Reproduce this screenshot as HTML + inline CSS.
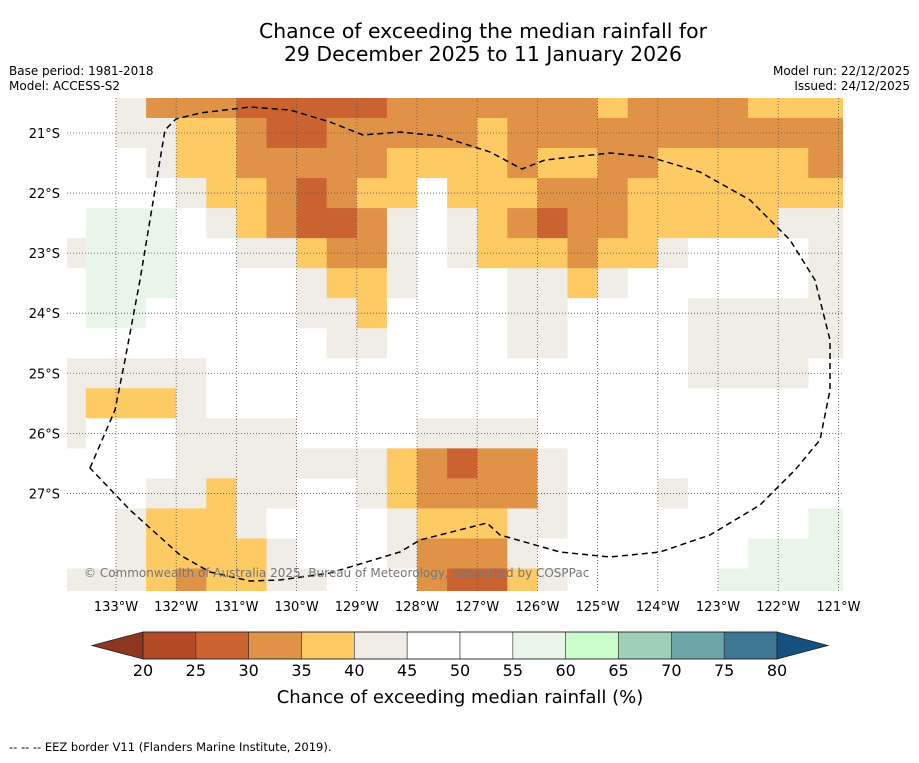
<!DOCTYPE html>
<html><head><meta charset="utf-8"><style>
body{margin:0;background:#fff;font-family:"Liberation Sans","DejaVu Sans",sans-serif;}
svg text{font-family:"DejaVu Sans","Liberation Sans",sans-serif;}
</style></head><body>
<svg id="fig" width="919" height="758" viewBox="0 0 919 758" xmlns="http://www.w3.org/2000/svg">
<rect width="919" height="758" fill="#fff"/>
<text x="483" y="38" font-size="20.4" text-anchor="middle">Chance of exceeding the median rainfall for</text>
<text x="483" y="61" font-size="20.4" text-anchor="middle">29 December 2025 to 11 January 2026</text>
<text x="9" y="75" font-size="12">Base period: 1981-2018</text>
<text x="9" y="90" font-size="12">Model: ACCESS-S2</text>
<text x="910" y="75" font-size="12" text-anchor="end">Model run: 22/12/2025</text>
<text x="910" y="90" font-size="12" text-anchor="end">Issued: 24/12/2025</text>
<defs><clipPath id="mapclip"><rect x="67" y="98" width="776" height="493"/></clipPath></defs>
<g id="map" clip-path="url(#mapclip)"></g>
<g id="grid"></g>
<path id="eez" fill="none" stroke="#000" stroke-width="1.5" stroke-dasharray="6,4" d="M90,468 L115,410 L125,360 L140,280 L165,130 L176,119 L200,113 L250,107 L290,110 L330,122 L363,135 L400,132 L440,136 L490,152 L522,169 L545,160 L610,153 L650,157 L700,172 L750,200 L790,240 L815,280 L830,340 L830,390 L820,440 L795,470 L760,505 L710,535 L660,552 L610,557 L560,552 L500,535 L487,523 L420,540 L400,552 L330,573 L280,580 L250,581 L210,572 L180,555 L130,510 Z"/>
<text x="84" y="577" font-size="12" fill="#777">© Commonwealth of Australia 2025, Bureau of Meteorology, supported by COSPPac</text>
<g id="xticks"></g>
<g id="yticks"></g>
<g id="cbar"></g>
<text x="460" y="703" font-size="18" text-anchor="middle">Chance of exceeding median rainfall (%)</text>
<text x="9" y="751" font-size="11.5">--  --  -- EEZ border V11 (Flanders Marine Institute, 2019).</text>
</svg>
<script>
const lonCenters=[133.75,133.25,132.75,132.25,131.75,131.25,130.75,130.25,129.75,129.25,128.75,128.25,127.75,127.25,126.75,126.25,125.75,125.25,124.75,124.25,123.75,123.25,122.75,122.25,121.75,121.25];
const latCenters=[20.5,21,21.5,22,22.5,23,23.5,24,24.5,25,25.5,26,26.5,27,27.5,28,28.5];
const chanceGrid=[
[47,47,42,32,32,32,27,27,27,27,27,32,32,32,32,32,32,32,37,32,32,32,32,37,37,37],
[47,47,42,42,37,37,32,27,27,32,32,32,32,32,37,32,32,32,32,32,32,32,32,32,32,32],
[47,47,47,42,37,37,32,32,32,32,32,37,37,37,37,32,37,37,32,32,37,37,37,37,37,32],
[47,47,47,47,42,37,37,32,27,32,37,37,47,37,37,37,32,32,32,37,37,37,37,37,37,37],
[47,57,57,57,47,42,37,32,27,27,32,42,47,42,37,32,27,32,32,37,37,37,37,37,42,42],
[42,57,57,57,47,47,42,42,37,32,32,42,47,42,37,37,37,32,37,37,42,47,47,47,47,42],
[47,57,57,57,47,47,47,47,42,37,37,42,47,47,47,42,42,37,42,47,47,47,47,47,47,42],
[47,57,57,47,47,47,47,47,42,42,37,47,47,47,47,42,42,47,47,47,47,42,42,42,42,42],
[47,47,47,47,47,47,47,47,47,42,42,47,47,47,47,42,42,47,47,47,47,42,42,42,42,42],
[42,42,42,42,42,47,47,47,47,47,47,47,47,47,47,47,47,47,47,47,47,42,42,42,42,47],
[42,37,37,37,42,47,47,47,47,47,47,47,47,47,47,47,47,47,47,47,47,47,47,47,47,47],
[42,47,47,47,42,42,42,42,47,47,47,47,42,42,42,42,47,47,47,47,47,47,47,47,47,47],
[47,47,47,47,42,42,42,42,42,42,42,37,32,27,32,32,42,47,47,47,47,47,47,47,47,47],
[47,47,47,42,42,37,42,42,47,47,42,37,32,32,32,32,42,47,47,47,42,47,47,47,47,47],
[47,47,42,37,37,37,42,47,47,47,47,42,37,37,37,42,42,47,47,47,47,47,47,47,47,57],
[47,47,42,37,37,37,37,42,47,47,47,42,32,32,32,42,47,47,47,47,47,47,47,57,57,57],
[42,42,42,37,32,37,37,42,42,47,47,47,32,27,27,37,42,47,47,47,47,47,57,57,57,57]];
const binEdges=[20,25,30,35,40,45,50,55,60,65,70,75,80];
const binColors=["#b24a27","#cb6331","#e09346","#fdca64","#f0ece6","#ffffff","#ffffff","#eaf5ea","#c9fcca","#9dcfb9","#6ca6a8","#3e7796"];
const lonTicks=[133,132,131,130,129,128,127,126,125,124,123,122,121];
const latTicks=[21,22,23,24,25,26,27];
const NS="http://www.w3.org/2000/svg";
const xOf=lon=>116+(133-lon)*60.2;
const yOf=lat=>133+(lat-21)*60.07;
const cbX=v=>143+(v-20)*10.567;
function colorFor(v){for(let i=0;i<binColors.length;i++){if(v<binEdges[i+1])return binColors[i];}return "#15507f";}
function mk(tag,attrs,parent){const e=document.createElementNS(NS,tag);for(const k in attrs)e.setAttribute(k,attrs[k]);parent.appendChild(e);return e;}
const map=document.getElementById('map');
latCenters.forEach((lat,r)=>{lonCenters.forEach((lon,c)=>{
  const v=chanceGrid[r][c];
  const x1=xOf(lon+0.25), x2=(c===lonCenters.length-1)?850:xOf(lon-0.25);
  const y1=yOf(lat-0.25), y2=yOf(lat+0.25);
  const el=mk('rect',{x:x1,y:y1,width:x2-x1+0.6,height:y2-y1+0.6,fill:colorFor(v)},map);
  
  
});});
const grid=document.getElementById('grid');
const xt=document.getElementById('xticks');
lonTicks.forEach(l=>{
  const x=xOf(l);
  const g=mk('line',{x1:x,x2:x,y1:98,y2:591,stroke:'#555','stroke-width':0.8,'stroke-dasharray':'1,2'},grid);
  
  
  const t=mk('text',{x:x,y:611,'font-size':13,'text-anchor':'middle'},xt);
  t.textContent=l+'°W';
  
  
});
const yt=document.getElementById('yticks');
latTicks.forEach(l=>{
  const y=yOf(l);
  const g=mk('line',{x1:67,x2:843,y1:y,y2:y,stroke:'#555','stroke-width':0.8,'stroke-dasharray':'1,2'},grid);
  
  
  const t=mk('text',{x:60,y:y+5,'font-size':13,'text-anchor':'end'},yt);
  t.textContent=l+'°S';
  
  
});
const cb=document.getElementById('cbar');
const cy1=632,cy2=659;
const lt=mk('polygon',{points:`92,${(cy1+cy2)/2} ${cbX(20)},${cy1} ${cbX(20)},${cy2}`,fill:'#8e3720',stroke:'#222','stroke-width':0.8},cb);


const rt=mk('polygon',{points:`828,${(cy1+cy2)/2} ${cbX(80)},${cy1} ${cbX(80)},${cy2}`,fill:'#15507f',stroke:'#222','stroke-width':0.8},cb);


binColors.forEach((col,i)=>{
  const r=mk('rect',{x:cbX(binEdges[i]),y:cy1,width:cbX(binEdges[i+1])-cbX(binEdges[i]),height:cy2-cy1,fill:col,stroke:'#333','stroke-width':0.6},cb);
  
  
});
mk('rect',{x:cbX(20),y:cy1,width:cbX(80)-cbX(20),height:cy2-cy1,fill:'none',stroke:'#222','stroke-width':0.8},cb);
binEdges.forEach(v=>{
  const t=mk('text',{x:cbX(v),y:676,'font-size':16,'text-anchor':'middle'},cb);
  t.textContent=v;
  
  
});
</script>
</body></html>
